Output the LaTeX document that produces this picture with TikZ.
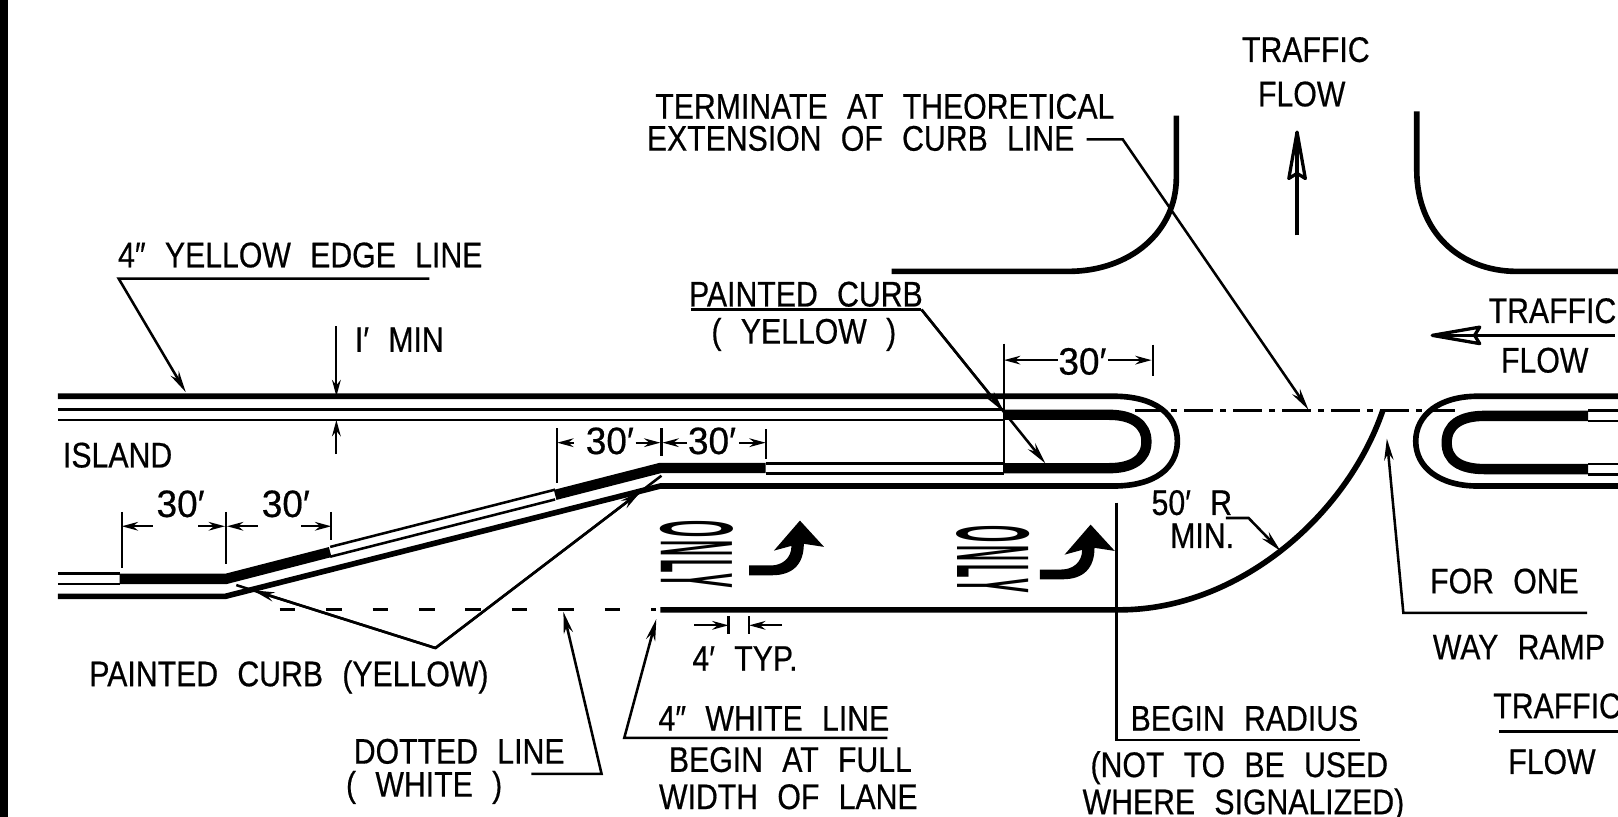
\documentclass[tikz,border=0pt]{standalone}
\usepackage{fontspec}
\usepackage{graphicx}
\setmainfont[FakeStretch=0.85,WordSpace=2.3,FakeBold=0.5]{Liberation Sans}
\newfontfamily\numfont[FakeStretch=0.97,FakeBold=0.5]{Liberation Sans}
\newfontfamily\markfont[LetterSpace=14]{Liberation Sans Bold}
\usetikzlibrary{calc,arrows.meta}

\tikzset{
    lab/.style={inner sep=0pt,anchor=base,font=\fontsize{9.8}{11}\selectfont},
    numlab/.style={inner sep=0pt,anchor=base,font=\fontsize{10.5}{11}\selectfont\numfont},
    curb/.style={line width=1.55pt},
    edge/.style={line width=0.7pt},
    paint/.style={line width=2.85pt},
    leader/.style={line width=0.7pt,>={Stealth[length=6pt,width=2.6pt]}},
    dim/.style={line width=0.6pt,>={Stealth[length=4.5pt,width=2.4pt]}},
    open/.style={line width=0.9pt,line join=round,fill=white},
}

\begin{document}
\begin{tikzpicture}[x=0.01cm,y=-0.01cm]

\useasboundingbox (0,0) rectangle (1568,791.7);

%frame
\fill (0,0) rectangle (8,791.7);

%coordinates
\coordinate (Y) at (115,270);
\coordinate (Y') at (416,270);
\coordinate (P) at (670,300);
\coordinate (P') at (893,300);
\coordinate (Q) at (1013,449);
\coordinate (T) at (1053,135);
\coordinate (T') at (1088,135);
\coordinate (A) at (422,628);
\coordinate (A1) at (229,567);
\coordinate (A2) at (641,461);
\coordinate (D) at (515,750);
\coordinate (D') at (583,750);
\coordinate (W) at (860,715);
\coordinate (W') at (605,715);
\coordinate (R) at (1188,502);
\coordinate (R') at (1210,502);
\coordinate (B) at (1082,487);
\coordinate (B') at (1082,717);
\coordinate (B'') at (1318,717);
\coordinate (F) at (1538,594);
\coordinate (F') at (1360,594);

%curb edges
\draw[curb] (56,384) -- (1079,384) .. controls (1120,384) and (1141,402) .. (1141,427.5) .. controls (1141,453) and (1120,471) .. (1079,471) -- (640,471) -- (218,578) -- (56,578);
\draw[curb] (1568,384) -- (1432,384) .. controls (1395,384) and (1372,402) .. (1372,427.5) .. controls (1372,453) and (1395,471) .. (1432,471) -- (1568,471);
\draw[curb] (640,591) -- (1085,591) .. controls (1200,591) and (1305,500) .. (1340,398);
\draw[curb] (1140,112) -- (1140,172) .. controls (1140,225) and (1095,263) .. (1035,263) -- (864,263);
\draw[curb] (1373,108) -- (1373,165) .. controls (1373,225) and (1415,263) .. (1470,263) -- (1568,263);

%thin edges
\foreach \y in {397,407}{
    \draw[edge] (56,\y) -- (973,\y);
}
\foreach \y in {449,459}{
    \draw[edge] (742,\y) -- (973,\y);
}
\foreach \y in {556,566}{
    \draw[edge] (56,\y) -- (116,\y);
}
\foreach \a/\b in {398/408,449.6/459.6}{
    \draw[edge] (1539,\a) -- (1568,\a);
    \draw[edge] (1539,\b) -- (1568,\b);
}
\draw[edge] (320,530) -- (538,474.5);
\draw[edge] (320,539.5) -- (538,484);

%painted curb
\draw[paint] (116,561) -- (219,561) -- (320,535);
\draw[paint] (538,479.6) -- (640,453.5) -- (742,453.5);
\draw[paint] (973,402) -- (1075,402) .. controls (1097,402) and (1111,411) .. (1111,428) .. controls (1111,445) and (1097,453.7) .. (1075,453.7) -- (973,453.7);
\draw[paint] (1539,403) -- (1439,403) .. controls (1415,403) and (1402,412) .. (1402,429) .. controls (1402,446) and (1415,454.6) .. (1439,454.6) -- (1539,454.6);

%dashed lines
\draw[line width=0.9pt,dash pattern=on 4.3pt off 8.5pt] (271,591) -- (636,591);
\draw[line width=0.8pt,dash pattern=on 8pt off 2pt on 1.5pt off 2pt] (1100,398) -- (1410,398);

%only markings
\foreach \x/\y/\u/\v in {675/537/0/0,962/542/281.7/3.9}{
    \node[rotate=-90,inner sep=0pt] (only\u) at (\x,\y) {\resizebox{18.8pt}{19.9pt}{\markfont ONLY}};
    \fill[shift={(\u,\v)}] (726,548) -- (747,548) .. controls (758,548) and (767,541) .. (767,529) -- (750,533.6) -- (775.2,504.5) -- (798.6,530) -- (779,527) .. controls (779,547) and (768,557.5) .. (748,557.5) -- (726,557.5) -- cycle;
}

%labels
\node[lab] (tf1) at (1265.5,60) {TRAFFIC};
\node[lab] (fl1) at (1261.5,103) {FLOW};
\node[lab] (ter) at (857.5,115) {TERMINATE AT THEORETICAL};
\node[lab] (ext) at (834,146) {EXTENSION OF CURB LINE};
\node[lab] (yel) at (291,259) {4″ YELLOW EDGE LINE};
\node[lab] (mn1) at (387,341) {I′ MIN};
\node[lab] (pc) at (781,297) {PAINTED CURB};
\node[lab] (py) at (779,333) {( YELLOW )};
\node[lab] (isl) at (114,453) {ISLAND};
\node[lab] (pcy) at (280,665) {PAINTED CURB (YELLOW)};
\node[lab] (dot) at (445,740) {DOTTED LINE};
\node[lab] (wht) at (411,772) {( WHITE )};
\node[lab] (wl) at (750,708) {4″ WHITE LINE};
\node[lab] (baf) at (766,748) {BEGIN AT FULL};
\node[lab] (wol) at (764,784) {WIDTH OF LANE};
\node[lab] (typ) at (722,650) {4′ TYP.};
\node[lab] (rad) at (1155,499) {50′ R};
\node[lab] (mn2) at (1165,531) {MIN.};
\node[lab] (br) at (1206,708) {BEGIN RADIUS};
\node[lab] (ntb) at (1201,753) {(NOT TO BE USED};
\node[lab] (sig) at (1205,789) {WHERE SIGNALIZED)};
\node[lab] (tf2) at (1504.5,313) {TRAFFIC};
\node[lab] (fl2) at (1497,361) {FLOW};
\node[lab] (one) at (1458,575) {FOR ONE};
\node[lab] (way) at (1472,639) {WAY RAMP};
\node[lab] (tf3) at (1509,696) {TRAFFIC};
\node[lab] (fl3) at (1504,750) {FLOW};
\node[numlab] (d1) at (1049,363) {30′};
\node[numlab] (d2) at (591,440) {30′};
\node[numlab] (d3) at (690,440) {30′};
\node[numlab] (d4) at (175,501) {30′};
\node[numlab] (d5) at (277,501) {30′};

%leaders
\draw[leader,->] (Y') -- (Y) -- (180,380);
\draw[leader] (P) -- (P');
\draw[leader,->] (P') -- ($(P')!0.665!(Q)$);
\draw[leader,->] (P') -- (Q);
\draw[leader,->] (T) -- (T') -- (1268,397);
\draw[leader] (A1) -- (A) -- (A2);
\draw[leader,->] (A) -- ($(A)!0.917!(A1)$);
\draw[leader,->] (A) -- ($(A)!0.91!(A2)$);
\draw[leader,->] (D) -- (D') -- (546,593);
\draw[leader,->] (W) -- (W') -- (636,600);
\draw[leader,->] (R) -- (R') -- (1241,534);
\draw[leader] (B) -- (B') -- (B'');
\draw[leader,->] (F) -- (F') -- (1344,425);

%ticks
\foreach \x/\a/\b in {973/333/458,1117/334/364,540/415/468,641/415/442,742/416/445,118/496/550,219/496/547,321/496/523,706/597/614,726/597/614}{
    \draw[dim] (\x,\a) -- (\x,\b);
}
%dimension arrows
\foreach \a/\b/\y in {1025/973/349,1074/1116/349,556/540/429,616/640/429,666/642/429,716/742/429,148/118/510,192/218/510,250/220/510,292/321/510,673/706/606,758/726/606}{
    \draw[dim,->] (\a,\y) -- (\b,\y);
}

%min arrows
\draw[dim,->] (326,316) -- (326,384);
\draw[dim,->] (326,440) -- (326,407);

%traffic arrows
\draw[line width=0.95pt] (1257,228) -- (1257,128);
\draw[open] (1257,128) -- (1265,173) -- (1257,168) -- (1249,173) -- cycle;
\draw[line width=0.9pt] (1257,128) -- (1257,168);
\draw[line width=0.8pt] (1565,325) -- (1388,325);
\draw[open] (1388,325) -- (1434,317) -- (1429,325) -- (1434,333) -- cycle;
\draw[line width=0.9pt] (1388,325) -- (1429,325);
\draw[line width=0.8pt] (1453,709) -- (1568,709);

\end{tikzpicture}
\end{document}
